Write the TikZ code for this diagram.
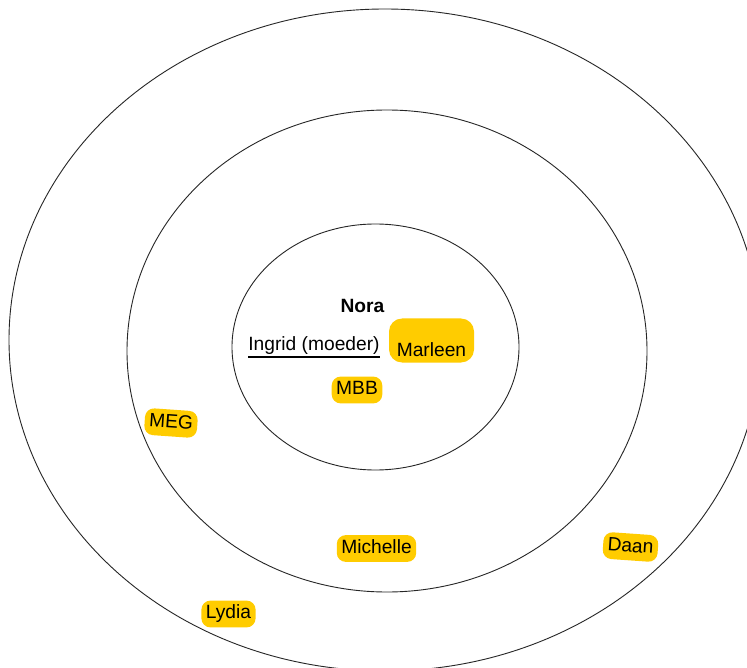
\documentclass[tikz,border=0pt]{standalone}
\usepackage{fontspec}
\setmainfont{Liberation Sans}
\definecolor{tagyellow}{HTML}{FFCC00}
\begin{document}
\begin{tikzpicture}[x=1pt,y=-1pt,
  ring/.style={draw=black!85, line width=0.9pt},
  tag/.style={fill=tagyellow, rounded corners=9pt, inner xsep=4.5pt, inner ysep=4.5pt,
    text height=13.8pt, text depth=4pt, font=\fontsize{19.2pt}{21pt}\selectfont},
  plain/.style={inner sep=0pt, font=\fontsize{19.2pt}{21pt}\selectfont}]
\useasboundingbox (0,0) rectangle (747,668);
\clip (0,0) rectangle (747,668);
\fill[white] (0,0) rectangle (747,668);
% rings
\draw[ring] (385,340) ellipse [x radius=376pt, y radius=331pt];
\draw[ring] (387,351) ellipse [x radius=260pt, y radius=241pt];
\draw[ring] (375.5,347) ellipse [x radius=143.5pt, y radius=123pt];
% centre texts
\node[plain, font=\fontsize{19.2pt}{21pt}\selectfont\bfseries] (nora) at (362.5,306) {Nora};
\node[plain] (ingrid) at (314,345.5) {Ingrid (moeder)};
\draw[line width=1.4pt] ([yshift=-2.5pt]ingrid.south west) -- ([yshift=-2.5pt]ingrid.south east);
% tags
\node[tag, inner sep=0pt, minimum width=85pt, text height=37.5pt, text depth=6.5pt, anchor=base, rounded corners=13pt] (marleen) at (431.5,356) {Marleen};
\node[tag] (mbb) at (357,390) {MBB};
\node[tag, rotate=-4] (meg) at (171,423) {MEG};
\node[tag] (michelle) at (376.5,548.5) {Michelle};
\node[tag, rotate=-4] (daan) at (630.5,547) {Daan};
\node[tag] (lydia) at (228.5,614) {Lydia};
\end{tikzpicture}
\end{document}
